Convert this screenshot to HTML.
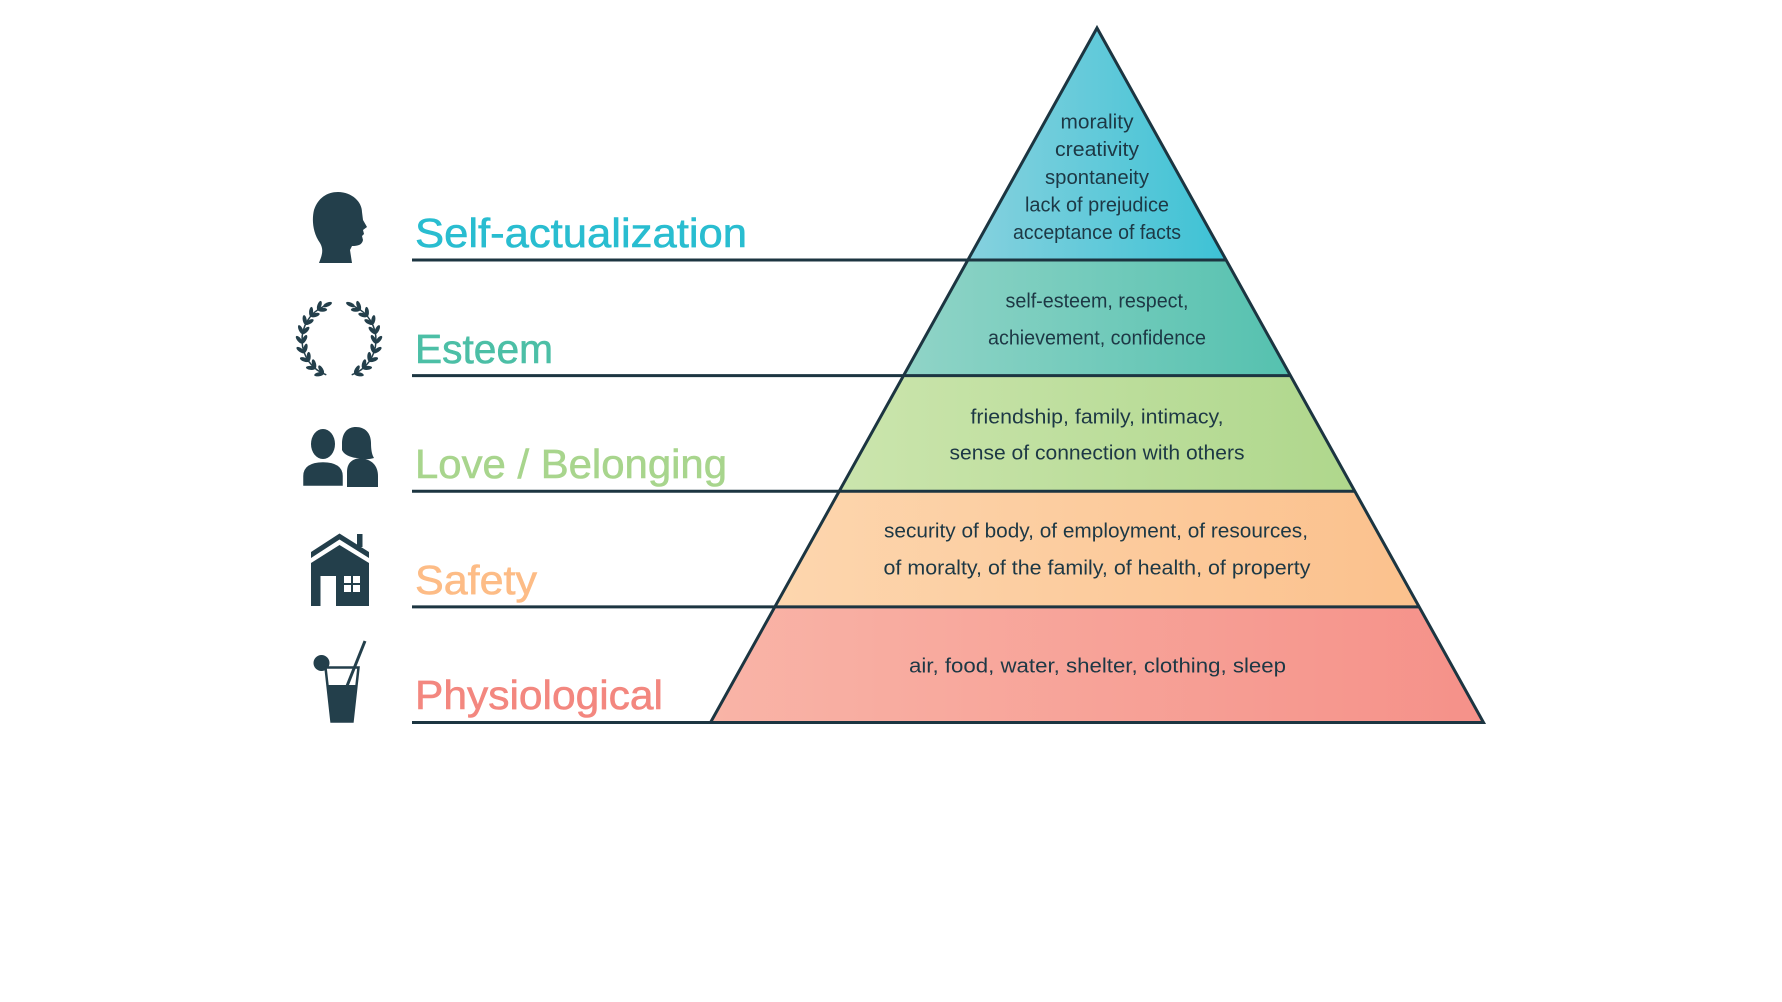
<!DOCTYPE html>
<html>
<head>
<meta charset="utf-8">
<style>
html,body{margin:0;padding:0;background:#ffffff;}
svg{display:block;}
.lab{font-family:"Liberation Sans",sans-serif;font-size:41px;stroke-width:0.6px;}
.pt{font-family:"Liberation Sans",sans-serif;font-size:20px;fill:#1d3845;}
</style>
</head>
<body>
<svg width="1782" height="1002" viewBox="0 0 1782 1002" xmlns="http://www.w3.org/2000/svg">
<defs>
  <linearGradient id="g1" x1="0" y1="0" x2="1" y2="0"><stop offset="0" stop-color="#86d1de"/><stop offset="1" stop-color="#3dc2d5"/></linearGradient>
  <linearGradient id="g2" x1="0" y1="0" x2="1" y2="0"><stop offset="0" stop-color="#90d4c7"/><stop offset="1" stop-color="#55c1af"/></linearGradient>
  <linearGradient id="g3" x1="0" y1="0" x2="1" y2="0"><stop offset="0" stop-color="#cbe5ad"/><stop offset="1" stop-color="#afd78c"/></linearGradient>
  <linearGradient id="g4" x1="0" y1="0" x2="1" y2="0"><stop offset="0" stop-color="#fdd6ae"/><stop offset="1" stop-color="#fbc18d"/></linearGradient>
  <linearGradient id="g5" x1="0" y1="0" x2="1" y2="0"><stop offset="0" stop-color="#f9b4a7"/><stop offset="1" stop-color="#f59189"/></linearGradient>
  <g id="branch" fill="#233f4b">
    <path d="M326.3,374.8 A37,37 0 0 1 323.4,306.5" fill="none" stroke="#233f4b" stroke-width="1.5"/>
    <ellipse rx="4.8" ry="2" transform="translate(323.4,373.5) rotate(170) translate(4.5,0)"/>
    <ellipse rx="4.8" ry="2" transform="translate(323.4,373.5) rotate(240) translate(4.5,0)"/>
    <ellipse rx="4.8" ry="2" transform="translate(315.2,368.3) rotate(185) translate(4.5,0)"/>
    <ellipse rx="4.8" ry="2" transform="translate(315.2,368.3) rotate(255) translate(4.5,0)"/>
    <ellipse rx="4.8" ry="2" transform="translate(308.7,361.2) rotate(200) translate(4.5,0)"/>
    <ellipse rx="4.8" ry="2" transform="translate(308.7,361.2) rotate(270) translate(4.5,0)"/>
    <ellipse rx="4.8" ry="2" transform="translate(304.2,352.7) rotate(215) translate(4.5,0)"/>
    <ellipse rx="4.8" ry="2" transform="translate(304.2,352.7) rotate(285) translate(4.5,0)"/>
    <ellipse rx="4.8" ry="2" transform="translate(302.1,343.2) rotate(230) translate(4.5,0)"/>
    <ellipse rx="4.8" ry="2" transform="translate(302.1,343.2) rotate(300) translate(4.5,0)"/>
    <ellipse rx="4.8" ry="2" transform="translate(302.6,333.6) rotate(245) translate(4.5,0)"/>
    <ellipse rx="4.8" ry="2" transform="translate(302.6,333.6) rotate(315) translate(4.5,0)"/>
    <ellipse rx="4.8" ry="2" transform="translate(305.5,324.3) rotate(260) translate(4.5,0)"/>
    <ellipse rx="4.8" ry="2" transform="translate(305.5,324.3) rotate(330) translate(4.5,0)"/>
    <ellipse rx="4.8" ry="2" transform="translate(310.7,316.2) rotate(275) translate(4.5,0)"/>
    <ellipse rx="4.8" ry="2" transform="translate(310.7,316.2) rotate(345) translate(4.5,0)"/>
    <ellipse rx="4.8" ry="2" transform="translate(317.8,309.7) rotate(290) translate(4.5,0)"/>
    <ellipse rx="4.8" ry="2" transform="translate(317.8,309.7) rotate(360) translate(4.5,0)"/>
    <ellipse rx="4.8" ry="2" transform="translate(323.4,306.5) rotate(335) translate(4.5,0)"/>
  </g>
</defs>

<!-- pyramid layers -->
<polygon points="1097,28 1226.1,260 967.9,260" fill="url(#g1)"/>
<polygon points="967.9,260 1226.1,260 1290.4,375.6 903.6,375.6" fill="url(#g2)"/>
<polygon points="903.6,375.6 1290.4,375.6 1354.8,491.25 839.2,491.25" fill="url(#g3)"/>
<polygon points="839.2,491.25 1354.8,491.25 1419.2,606.9 774.8,606.9" fill="url(#g4)"/>
<polygon points="774.8,606.9 1419.2,606.9 1483.5,722.5 710.5,722.5" fill="url(#g5)"/>

<!-- outline and divider lines -->
<g stroke="#1c3541" stroke-width="3" fill="none">
  <polygon points="1097,28 1483.5,722.5 710.5,722.5" stroke-linejoin="miter"/>
  <line x1="412" y1="260" x2="1226" y2="260"/>
  <line x1="412" y1="375.6" x2="1290.5" y2="375.6"/>
  <line x1="412" y1="491.25" x2="1355" y2="491.25"/>
  <line x1="412" y1="606.9" x2="1419.3" y2="606.9"/>
  <line x1="412" y1="722.5" x2="1484" y2="722.5"/>
</g>

<!-- labels -->
<text class="lab" x="415" y="247" fill="#29bdd0" stroke="#29bdd0" textLength="332" lengthAdjust="spacingAndGlyphs">Self-actualization</text>
<text class="lab" x="415" y="363" fill="#4cbfa6" stroke="#4cbfa6" textLength="138" lengthAdjust="spacingAndGlyphs">Esteem</text>
<text class="lab" x="415" y="478" fill="#a8d58d" stroke="#a8d58d" textLength="312" lengthAdjust="spacingAndGlyphs">Love / Belonging</text>
<text class="lab" x="415" y="594" fill="#fdbc86" stroke="#fdbc86" textLength="122" lengthAdjust="spacingAndGlyphs">Safety</text>
<text class="lab" x="415" y="709" fill="#f3877f" stroke="#f3877f" textLength="248" lengthAdjust="spacingAndGlyphs">Physiological</text>

<!-- pyramid text -->
<g text-anchor="middle">
  <text class="pt" x="1097" y="128.5" textLength="73" lengthAdjust="spacingAndGlyphs">morality</text>
  <text class="pt" x="1097" y="156" textLength="84" lengthAdjust="spacingAndGlyphs">creativity</text>
  <text class="pt" x="1097" y="184" textLength="104" lengthAdjust="spacingAndGlyphs">spontaneity</text>
  <text class="pt" x="1097" y="211.5" textLength="144" lengthAdjust="spacingAndGlyphs">lack of prejudice</text>
  <text class="pt" x="1097" y="239" textLength="168" lengthAdjust="spacingAndGlyphs">acceptance of facts</text>

  <text class="pt" x="1097" y="307.7" textLength="183" lengthAdjust="spacingAndGlyphs">self-esteem, respect,</text>
  <text class="pt" x="1097" y="344.3" textLength="218" lengthAdjust="spacingAndGlyphs">achievement, confidence</text>

  <text class="pt" x="1097" y="423.3" textLength="253" lengthAdjust="spacingAndGlyphs">friendship, family, intimacy,</text>
  <text class="pt" x="1097" y="459.5" textLength="295" lengthAdjust="spacingAndGlyphs">sense of connection with others</text>

  <text class="pt" x="1096" y="537.7" textLength="424" lengthAdjust="spacingAndGlyphs">security of body, of employment, of resources,</text>
  <text class="pt" x="1097" y="574.3" textLength="427" lengthAdjust="spacingAndGlyphs">of moralty, of the family, of health, of property</text>

  <text class="pt" x="1097.5" y="672.3" textLength="377" lengthAdjust="spacingAndGlyphs">air, food, water, shelter, clothing, sleep</text>
</g>

<!-- head icon -->
<path fill="#233f4b" d="M338,192 C352,192 362,202 362,212 L363,220 L367,227 L363,230 L364,234 L362,236 L363,240 C362,245 358,246 352,246 L350,250 L352,263 L319,263 C322,255 324,250 320,243 C312,232 312,218 314,210 C318,198 327,192 338,192 Z"/>

<!-- laurel icon -->
<use href="#branch"/>
<use href="#branch" transform="translate(678,0) scale(-1,1)"/>

<!-- couple icon -->
<g fill="#233f4b">
  <path d="M342,444 C342,432 348,427 356,427 C365,427 371,433 371,443 C371,450 372,455 374,458 C368,460 362,459 358,458 C352,458 344,455 342,450 Z"/>
  <path d="M347,487 L347,472 C347,463 352,459 360,458 C371,459 378,465 378,476 L378,487 Z"/>
  <ellipse cx="323" cy="444" rx="12.5" ry="15.5" stroke="#ffffff" stroke-width="2"/>
  <path d="M302,487 L302,476 C302,466 310,461 323,461 C336,461 344,466 344,476 L344,487 Z" stroke="#ffffff" stroke-width="2.5"/>
  <ellipse cx="323" cy="444" rx="12" ry="15"/>
</g>

<!-- house icon -->
<g fill="#233f4b">
  <polygon points="311,552 339.5,533.5 369,552 369,558 339.5,539.5 311,558"/>
  <rect x="357" y="534" width="5.5" height="13"/>
  <polygon points="311,563 339.5,545 369,563 369,606 311,606"/>
  <rect x="320.5" y="576" width="15.5" height="30" fill="#ffffff"/>
  <rect x="344" y="576" width="16" height="16" fill="#ffffff"/>
  <rect x="351" y="576" width="2" height="16"/>
  <rect x="344" y="583" width="16" height="2"/>
</g>

<!-- glass icon -->
<g>
  <circle cx="321.5" cy="663" r="8" fill="#233f4b"/>
  <polygon points="325.5,667.5 358.5,667.5 352.5,721.5 331.5,721.5" fill="#ffffff" stroke="#233f4b" stroke-width="2.5" stroke-linejoin="miter"/>
  <polygon points="326.5,685 357,685 352.5,722 331.5,722" fill="#233f4b"/>
  <line x1="365" y1="641" x2="347" y2="686" stroke="#233f4b" stroke-width="3"/>
</g>
</svg>
</body>
</html>
